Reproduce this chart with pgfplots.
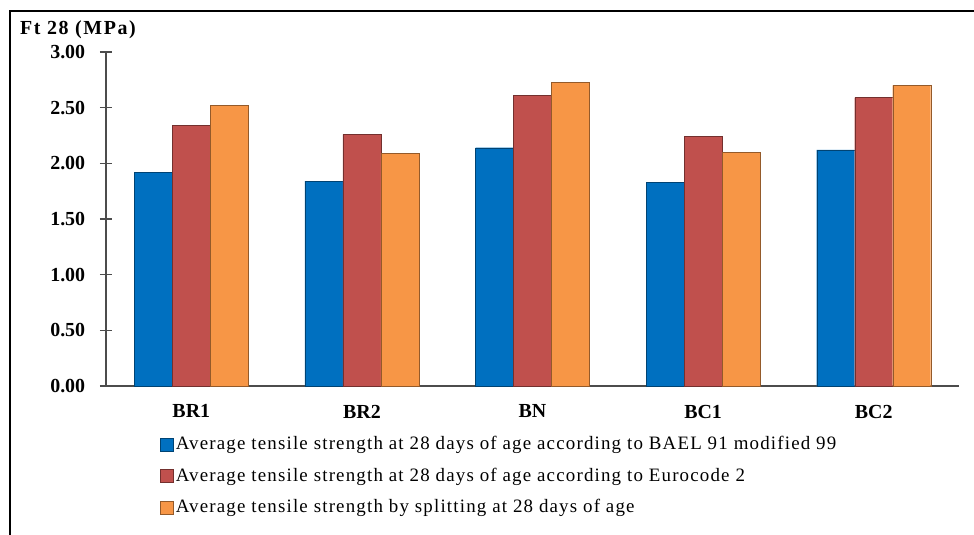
\documentclass[border=0pt]{standalone}
\usepackage{fontspec}
\setmainfont{Liberation Serif}
\newfontfamily\legfont[LetterSpace=6.2]{Liberation Serif}
\newfontfamily\labfont[LetterSpace=8]{Liberation Serif}
\usepackage{pgfplots}
\pgfplotsset{compat=1.18}
\definecolor{cblue}{HTML}{0070C0}
\definecolor{cred}{HTML}{C0504D}
\definecolor{corange}{HTML}{F79646}
\begin{document}
\fontsize{20}{24}\selectfont
\begin{tikzpicture}
\useasboundingbox (-106bp,-149bp) rectangle (868bp,386bp);
\draw[line width=1.5bp] (-96bp,-149bp) -- (-96bp,375bp) -- (868bp,375bp);
\node[font=\labfont\bfseries] at (-28bp,356bp) {Ft 28 (MPa)};
\begin{axis}[
  at={(0,0)}, anchor=south west,
  scale only axis, width=853bp, height=334bp,
  ymin=0, ymax=3, xmin=-0.5, xmax=4.5,
  axis x line*=bottom, axis y line*=left,
  axis line style={draw=black!70, line width=1.5bp},
  ytick={0,0.5,1,1.5,2,2.5,3},
  yticklabel style={font=\bfseries, xshift=-8bp,
    /pgf/number format/fixed, /pgf/number format/fixed zerofill,
    /pgf/number format/precision=2, /pgf/number format/assume math mode=true},
  ytick style={draw=black!70, line width=1.2bp},
  major tick length=12bp, tick align=center,
  xtick=data, xticklabels={BR1,BR2,BN,BC1,BC2},
  xtick style={draw=none},
  xticklabel style={font=\bfseries, yshift=0bp},
  ybar=0pt, bar width=38bp,
  legend style={at={(0.0633,-0.145)}, anchor=north west, draw=none, fill=none,
    font=\legfont\fontsize{19}{22}\selectfont, row sep=11bp, inner sep=0pt,
    /tikz/every even column/.append style={column sep=2bp}},
  legend cell align=left,
  legend image code/.code={\draw[#1, line width=0.6bp] (0bp,-6.5bp) rectangle (13bp,6.5bp);},
]
\addplot[fill=cblue, draw=cblue!60!black] coordinates {(0,1.92) (1,1.84) (2,2.14) (3,1.83) (4,2.12)};
\addplot[fill=cred, draw=cred!60!black] coordinates {(0,2.34) (1,2.26) (2,2.61) (3,2.24) (4,2.59)};
\addplot[fill=corange, draw=corange!60!black] coordinates {(0,2.52) (1,2.09) (2,2.73) (3,2.10) (4,2.70)};
\legend{Average tensile strength at 28 days of age according to BAEL 91 modified 99,
Average tensile strength at 28 days of age according to Eurocode 2,
Average tensile strength by splitting at 28 days of age}
\end{axis}
\end{tikzpicture}
\end{document}
